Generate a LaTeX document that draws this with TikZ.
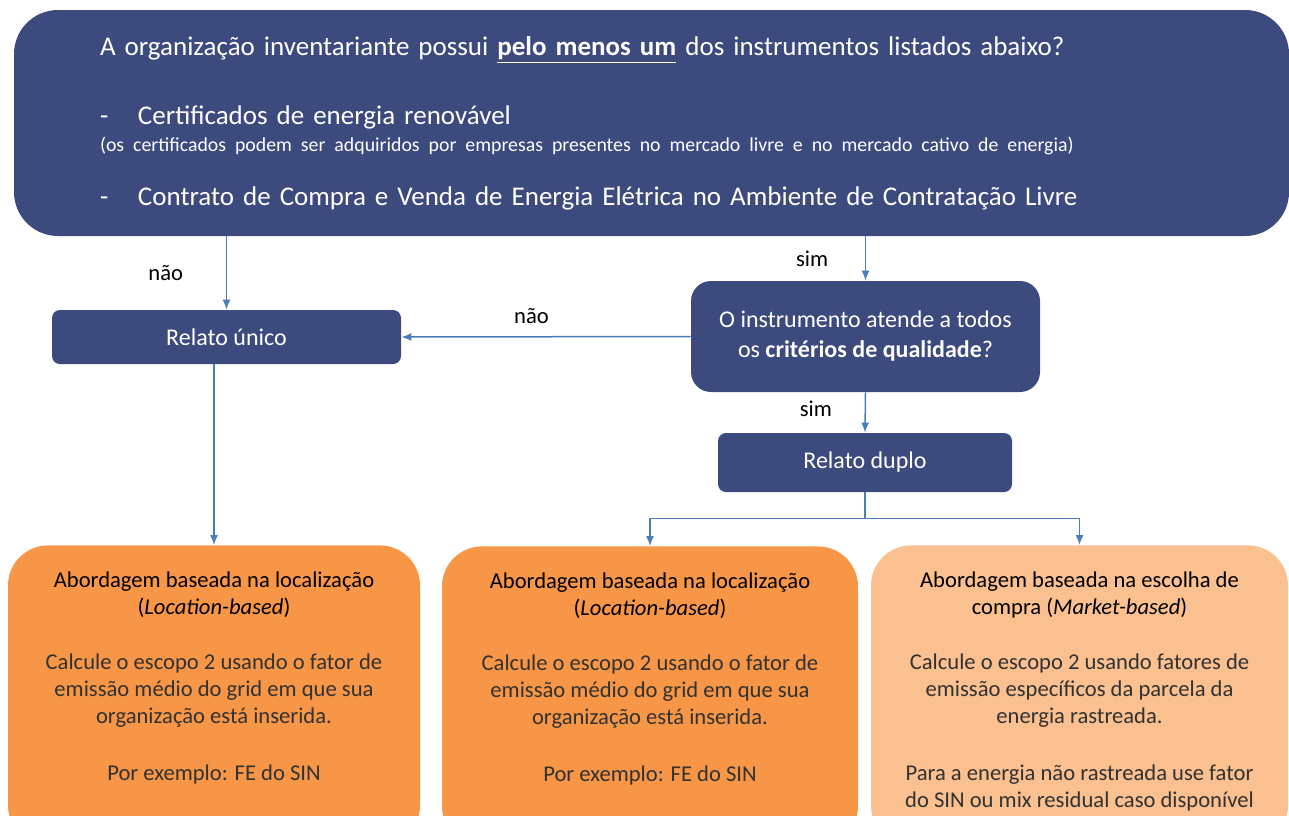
\documentclass[tikz,border=0pt]{standalone}
\usepackage{fontspec}
\setmainfont{Carlito}
\newfontfamily\notafont[WordSpace=0.55]{Carlito}
\usepackage{xcolor}
\usetikzlibrary{positioning,arrows.meta}
\definecolor{navy}{RGB}{60,74,125}
\definecolor{laranja}{RGB}{247,150,70}
\definecolor{pessego}{RGB}{250,192,144}
\definecolor{seta}{RGB}{74,126,187}
\definecolor{cinza}{RGB}{50,50,50}

\begin{document}
\begin{tikzpicture}[x=0.5pt,y=-0.5pt,>={Latex[length=5pt,width=4pt]}]
\tikzstyle{caixa}=[rectangle,fill=navy,text=white,rounded corners=4pt,font=\fontsize{12}{15}\selectfont,align=center,inner sep=0pt]
\tikzstyle{abordagem}=[rectangle,rounded corners=20pt,fill=laranja,inner sep=0pt,anchor=north,minimum height=150pt]
\tikzstyle{texto}=[inner sep=0pt,align=center,text=cinza,font=\fontsize{11.3}{13.5}\selectfont]
\tikzstyle{resposta}=[font=\fontsize{11.3}{13}\selectfont,text=black]
\tikzstyle{fluxo}=[draw=seta,line width=0.75pt,->]
\useasboundingbox (0,0) rectangle (1289,815);
\clip (0,0) rectangle (1289,815);
% pergunta inicial
\node[caixa,rounded corners=22pt,minimum width=637.5pt,minimum height=113pt,text width=551.5pt,align=left,font=\fontsize{13.5}{16}\selectfont] (q0) at (651.5,123)
 {A organização inventariante possui \underline{\textbf{pelo menos um}} dos instrumentos listados abaixo?\\[18.5pt]
  \makebox[19pt][l]{-}Certificados de energia renovável\\[-2.5pt]
  \mbox{\notafont\fontsize{9.9}{11}\selectfont(os certificados podem ser adquiridos por empresas presentes no mercado livre e no mercado cativo de energia)}\\[11pt]
  \makebox[19pt][l]{-}Contrato de Compra e Venda de Energia Elétrica no Ambiente de Contratação Livre};
\node[caixa,minimum width=174.5pt,minimum height=27pt] (unico) at (226.5,337) {Relato único};
\node[caixa,rounded corners=10pt,minimum width=174.5pt,minimum height=55.5pt] (qq) at (865.5,336.5)
 {O instrumento atende a todos\\os \textbf{critérios de qualidade}?};
\node[caixa,minimum width=147pt,minimum height=29.5pt] (duplo) at (865,462.5) {Relato duplo};
% abordagens
\node[abordagem,minimum width=206pt] (loc1) at (214,545) {};
\node[abordagem,minimum width=208pt] (loc2) at (650,546) {};
\node[abordagem,minimum width=208.5pt,fill=pessego] (mkt) at (1079.5,545) {};
\node[texto,below=13pt of loc1.north] (loc1t)
 {{\color{black}Abordagem baseada na localização}\\{\color{black}(\textit{Location-based})}\\[14pt]
  Calcule o escopo 2 usando o fator de\\emissão médio do grid em que sua\\organização está inserida.\\[15pt]
  Por exemplo: FE do SIN};
\node[texto,below=13pt of loc2.north] (loc2t)
 {{\color{black}Abordagem baseada na localização}\\{\color{black}(\textit{Location-based})}\\[14pt]
  Calcule o escopo 2 usando o fator de\\emissão médio do grid em que sua\\organização está inserida.\\[15pt]
  Por exemplo: FE do SIN};
\node[texto,below=13pt of mkt.north] (mktt)
 {{\color{black}Abordagem baseada na escolha de}\\{\color{black}compra (\textit{Market-based})}\\[14pt]
  Calcule o escopo 2 usando fatores de\\emissão específicos da parcela da\\energia rastreada.\\[15pt]
  Para a energia não rastreada use fator\\do SIN ou mix residual caso disponível};
% ligacoes
\draw[fluxo] (q0.south -| unico.north) -- node[resposta,left=18pt] {não} (unico.north);
\draw[fluxo] (q0.south -| qq.north) -- node[resposta,left=15pt] {sim} (qq.north);
\draw[fluxo] (qq.west) -- node[resposta,above=3pt,pos=0.55] {não} (unico.east);
\draw[fluxo] (qq.south) -- node[resposta,left=13pt,yshift=2pt] {sim} (duplo.north);
\draw[fluxo] (unico.south -| loc1.north) -- (loc1.north);
\draw[fluxo] (duplo.south) -- ++(0,26) -| (loc2.north);
\draw[fluxo] (duplo.south) -- ++(0,26) -| (mkt.north);
\end{tikzpicture}
\end{document}
